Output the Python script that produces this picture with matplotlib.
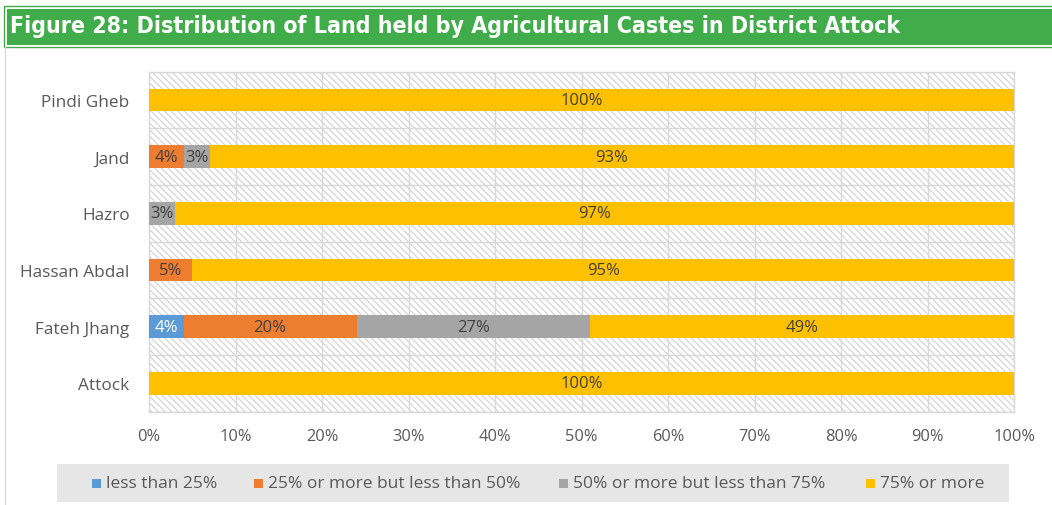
import matplotlib
matplotlib.use("Agg")
import matplotlib.pyplot as plt
from matplotlib.patches import Rectangle
from matplotlib.lines import Line2D
from matplotlib import font_manager
import numpy as np

# ---- data ----
regions = ["Attock", "Fateh Jhang", "Hassan Abdal", "Hazro", "Jand", "Pindi Gheb"]
series_names = ["less than 25%", "25% or more but less than 50%",
                "50% or more but less than 75%", "75% or more"]
less_25 = [0, 4, 0, 0, 0, 0]
from_25_to_50 = [0, 20, 5, 0, 4, 0]
from_50_to_75 = [0, 27, 0, 3, 3, 0]
above_75 = [100, 49, 95, 97, 93, 100]
x_ticks = [0, 10, 20, 30, 40, 50, 60, 70, 80, 90, 100]
title = "Figure 28: Distribution of Land held by Agricultural Castes in District Attock"

series = [less_25, from_25_to_50, from_50_to_75, above_75]
colors = ["#5B9BD5", "#ED7D31", "#A5A5A5", "#FFC000"]
label_colors = ["white", "#404040", "#404040", "#404040"]

W, H = 1052, 506
plt.rcParams["font.family"] = ["Open Sans", "DejaVu Sans"]
plt.rcParams["hatch.linewidth"] = 0.9
plt.rcParams["hatch.color"] = "#d6d6d6"

fig = plt.figure(figsize=(W / 100, H / 100), dpi=100)


def fx(px):
    return px / W


def fy(py):
    return 1 - py / H


# pick a narrow bold face for the banner title if one is installed
title_props = None
for f in font_manager.fontManager.ttflist:
    nm = (f.name + " " + f.fname).lower()
    if ("condensed" in nm or "narrow" in nm) and f.weight in (700, "bold") \
            and f.style == "normal" and "extra" not in nm and "semi" not in nm:
        title_props = font_manager.FontProperties(fname=f.fname)
        break
if title_props is None:
    title_props = font_manager.FontProperties(family=["Liberation Sans", "DejaVu Sans"],
                                              weight="bold")

# title banner
fig.add_artist(Rectangle((fx(4), fy(48)), fx(1060 - 4), 41 / H, transform=fig.transFigure,
                         facecolor="white", edgecolor="#41AD4A", lw=1.0))
fig.add_artist(Rectangle((fx(7), fy(45.5)), fx(1060 - 7), 36 / H, transform=fig.transFigure,
                         facecolor="#41AD4A", edgecolor="none"))
title_props.set_size(20)
ttl = fig.text(fx(10), fy(33.5), title, transform=fig.transFigure, color="white",
               fontproperties=title_props, va="baseline", ha="left")
# size the title so it spans the banner like a fitted heading
renderer = fig.canvas.get_renderer()
w = ttl.get_window_extent(renderer).width
title_props.set_size(min(20 * 890 / w, 22))
ttl.set_fontproperties(title_props)

# outer frame line on the left
fig.add_artist(Line2D([fx(4.5), fx(4.5)], [fy(48), 0], transform=fig.transFigure,
                      color="#d9d9d9", lw=1.0))

# plot area
ax = fig.add_axes([fx(149), fy(412.7), fx(1014 - 149), (412.7 - 72.7) / H])
ax.set_xlim(0, 100)
ax.set_ylim(-0.5, len(regions) - 0.5)

# hatched background
ax.add_patch(Rectangle((0, 0), 1, 1, transform=ax.transAxes, facecolor="white",
                       edgecolor="#d6d6d6", hatch="\\\\\\\\\\", lw=0, zorder=0))

y = np.arange(len(regions))
left = np.zeros(len(regions))
for vals, col, lcol in zip(series, colors, label_colors):
    vals = np.array(vals, dtype=float)
    ax.barh(y, vals, left=left, height=0.4, color=col, zorder=3)
    for yi, (l, v) in enumerate(zip(left, vals)):
        if v > 0:
            ax.text(l + v / 2, yi, f"{v:.0f}%", ha="center", va="center",
                    color=lcol, fontsize=12, zorder=4)
    left = left + vals

# grid: vertical at ticks, horizontal between categories
for t in x_ticks:
    ax.axvline(t, color="#d9d9d9", lw=1.0, zorder=1)
for b in np.arange(len(regions) + 1) - 0.5:
    ax.axhline(b, color="#d9d9d9", lw=1.0, zorder=1)

for s in ax.spines.values():
    s.set_color("#d9d9d9")
    s.set_linewidth(1.0)

ax.set_xticks(x_ticks)
ax.set_xticklabels([f"{t}%" for t in x_ticks])
ax.set_yticks(y)
ax.set_yticklabels(regions)
ax.tick_params(axis="both", length=0, colors="#595959")
ax.tick_params(axis="x", pad=12, labelsize=11.8)
ax.tick_params(axis="y", pad=14, labelsize=12.4)

# legend band
fig.add_artist(Rectangle((fx(57), fy(503)), fx(1009 - 57), 38 / H, transform=fig.transFigure,
                         facecolor="#e6e6e6", edgecolor="none"))
sq_x = [92, 254, 559, 866]
for name, col, sx in zip(series_names, colors, sq_x):
    fig.add_artist(Rectangle((fx(sx), fy(489)), fx(9), 9 / H, transform=fig.transFigure,
                             facecolor=col, edgecolor="none"))
    fig.text(fx(sx + 14), fy(484.5), name, transform=fig.transFigure, color="#595959",
             fontsize=12.5, va="center", ha="left")

fig.savefig("out.png", dpi=100)
